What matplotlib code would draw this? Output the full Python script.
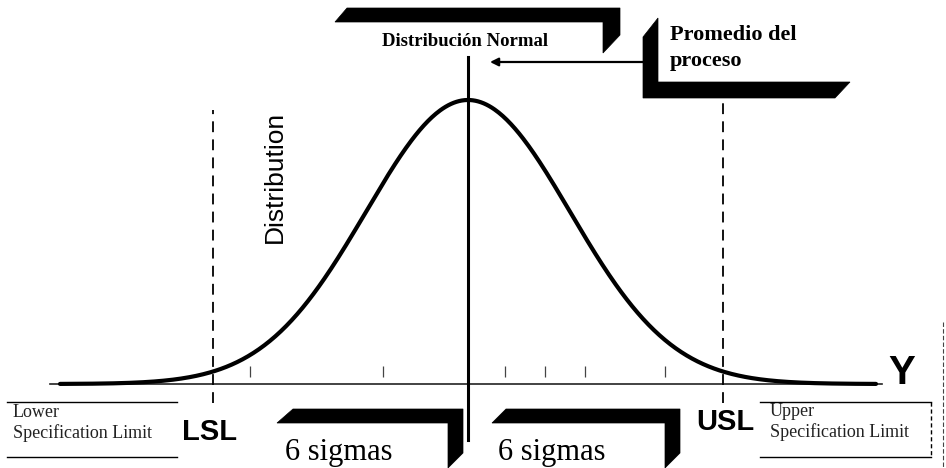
import numpy as np
import matplotlib
matplotlib.use("Agg")
import matplotlib.pyplot as plt
from matplotlib.patches import Polygon

# process distribution (x in sigma units, density scaled to a peak of 1)
mean = 0.0
sigma = 1.0
lsl = -2.5
usl = 2.5
curve_from, curve_to = -4.0, 4.0
minor_marks = [-2.14, -0.83, 0.36, 0.75, 1.15, 1.93]

title_text = "Distribución Normal"
mean_text = "Promedio del\nproceso"
span_texts = ["6 sigmas", "6 sigmas"]
lower_text = "Lower\nSpecification Limit"
upper_text = "Upper\nSpecification Limit"

sans = "Liberation Sans"
serif = "Liberation Serif"

fig = plt.figure(figsize=(9.46, 4.68), dpi=100)
fig.patch.set_facecolor("white")

# data axes fill the whole figure
ax = fig.add_axes([0, 0, 1, 1])
ax.set_xlim(-468 / 102, 478 / 102)
ax.set_ylim(-84 / 284, 384 / 284)
ax.axis("off")

x = np.linspace(curve_from, curve_to, 600)
density = np.exp(-0.5 * ((x - mean) / sigma) ** 2)
ax.plot(x, density, color="black", lw=3.0, solid_capstyle="round", zorder=4)

# horizontal axis and mean line
ax.plot([-4.1, 4.06], [0, 0], color="#222222", lw=1.2, zorder=3)
ax.plot([mean, mean], [-0.197, 1.151], color="black", lw=2.2, zorder=5)

# specification limits
ax.plot([lsl, lsl], [-0.067, 0.965], color="black", lw=1.3,
        dashes=(6, 4), zorder=3)
ax.plot([usl, usl], [-0.067, 1.055], color="black", lw=1.3,
        dashes=(6, 4), zorder=3)
ax.vlines(minor_marks, 0.025, 0.065, color="#444444", lw=0.9, zorder=3)

ax.text(-1.89, 0.73, "Distribution", rotation=90, ha="center", va="center",
        fontsize=19, family=sans)
ax.text(4.25, 0.0, "Y", ha="center", va="baseline", fontsize=29,
        fontweight="bold", family=sans)

# annotation layer in figure units (pixels, y down)
deco = fig.add_axes([0, 0, 1, 1])
deco.set_xlim(0, 946)
deco.set_ylim(468, 0)
deco.axis("off")
deco.patch.set_alpha(0)

frames = [
    [(335, 22), (347, 8), (620, 8), (620, 35), (603, 53), (603, 22)],
    [(643, 37), (658, 18), (658, 82), (850, 82), (835, 98), (643, 98)],
    [(277, 423), (293, 409), (463, 409), (463, 453), (448, 468), (448, 423)],
    [(492, 423), (506, 409), (680, 409), (680, 453), (665, 468), (665, 423)],
]
for pts in frames:
    deco.add_patch(Polygon(pts, closed=True, facecolor="black",
                           edgecolor="black", lw=0.5, zorder=6))

deco.text(465, 41, title_text, ha="center", va="center", fontsize=13.5,
          fontweight="bold", family=serif, zorder=7)
deco.text(670, 48, mean_text, ha="left", va="center", fontsize=16,
          fontweight="bold", family=serif, linespacing=1.35, zorder=7)
deco.annotate("", xy=(490, 62), xytext=(643, 62),
              arrowprops=dict(arrowstyle="-|>", color="black", lw=1.6,
                              mutation_scale=12, shrinkA=0, shrinkB=0))

deco.text(285, 460, span_texts[0], ha="left", va="baseline", fontsize=22,
          family=serif, zorder=7)
deco.text(498, 460, span_texts[1], ha="left", va="baseline", fontsize=22,
          family=serif, zorder=7)

deco.text(210, 432, "LSL", ha="center", va="center", fontsize=21,
          fontweight="bold", family=sans)
deco.text(725, 422, "USL", ha="center", va="center", fontsize=21,
          fontweight="bold", family=sans)

# specification limit captions
deco.plot([7, 177], [402, 402], color="black", lw=1.0)
deco.plot([7, 177], [457, 457], color="black", lw=1.0)
deco.text(13, 423, lower_text, ha="left", va="center", fontsize=13,
          family=serif, color="#222222", linespacing=1.2)

deco.plot([760, 931], [402, 402], color="black", lw=1.0)
deco.plot([760, 931], [457, 457], color="black", lw=1.0)
deco.plot([931, 931], [402, 457], color="black", lw=1.0, dashes=(3, 2))
deco.text(770, 422, upper_text, ha="left", va="center", fontsize=13,
          family=serif, color="#222222", linespacing=1.2)

deco.plot([943, 943], [322, 468], color="#444444", lw=0.8, dashes=(4, 2))

fig.savefig("out.png", dpi=100, facecolor="white")
